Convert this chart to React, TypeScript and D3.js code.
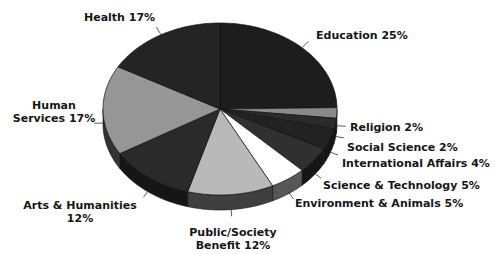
import * as d3 from 'd3';
import React from 'react';

// slices, clockwise from 12 o'clock
const categories = [
  'Education', 'Religion', 'Social Science', 'International Affairs',
  'Science & Technology', 'Environment & Animals', 'Public/Society\nBenefit',
  'Arts & Humanities\n', 'Human\nServices', 'Health',
];
const values = [25, 2, 2, 4, 5, 5, 12, 12, 17, 17];
const fills = [
  '#1d1d1d', '#8a8a8a', '#2b2b2b', '#222222', '#303030',
  '#ffffff', '#b9b9b9', '#2a2a2a', '#969696', '#242424',
];

// label placement: x, first baseline, anchor
const labelLayout: [number, number, string][] = [
  [316, 39, 'start'], [350, 131, 'start'], [347, 151, 'start'], [342, 167, 'start'],
  [323, 189, 'start'], [295, 207, 'start'], [233, 236, 'middle'],
  [80, 209, 'middle'], [54, 109, 'middle'], [84, 21, 'start'],
];

const W = 499, H = 254;
const cx = 220, cy = 109, rx = 117, ry = 86, depth = 15;

const pt = (a: number, dy = 0, grow = 0): [number, number] => [
  cx + (rx + grow) * Math.sin(a),
  cy - (ry + grow) * Math.cos(a) + dy,
];

const arcPts = (a0: number, a1: number, dy = 0) => {
  const n = Math.max(2, Math.ceil(Math.abs(a1 - a0) / 0.02));
  return d3.range(n + 1).map(i => pt(a0 + (a1 - a0) * i / n, dy));
};

// side wall shade: much darker than top, but not pure black
const wallColor = (c: string) => {
  const g = d3.rgb(d3.color(c)!.darker(3));
  const v = Math.max(g.r, 22);
  return d3.rgb(v, v, v).toString();
};

export default function App() {
  const arcs = d3.pie<number>().sort(null)(values);
  const line = d3.line();

  const walls = arcs.map((d, i) => {
    const s = Math.max(d.startAngle, Math.PI / 2);
    const e = Math.min(d.endAngle, Math.PI * 1.5);
    if (e <= s) return null;
    const pts = [...arcPts(s, e), ...arcPts(e, s, depth)];
    return (
      <path key={'w' + i} d={line(pts) + 'Z'} fill={wallColor(fills[i])}
        stroke="#111" strokeWidth={0.6} />
    );
  });

  const tops = arcs.map((d, i) => {
    const pts: [number, number][] = [[cx, cy], ...arcPts(d.startAngle, d.endAngle)];
    return (
      <path key={'t' + i} d={line(pts) + 'Z'} fill={fills[i]}
        stroke="#111" strokeWidth={0.7} strokeLinejoin="round" />
    );
  });

  const labels = arcs.map((d, i) => {
    const m = (d.startAngle + d.endAngle) / 2;
    const front = Math.cos(m) < 0.15;
    const dy = front ? depth * 0.85 : 0;
    const p0 = pt(m, dy);
    const p1 = pt(m, dy, 9);
    const [lx, ly, anchor] = labelLayout[i];
    const lines = `${categories[i]} ${values[i]}%`.split('\n').map(s => s.trim());
    return (
      <g key={'l' + i}>
        <path d={line([p0, p1])!} stroke="#333" strokeWidth={0.8} fill="none" />
        <text x={lx} y={ly} textAnchor={anchor} fontFamily="DejaVu Sans"
          fontWeight="bold" fontSize={11} fill="#161616">
          {lines.map((t, j) => (
            <tspan key={j} x={lx} dy={j === 0 ? 0 : 13}>{t}</tspan>
          ))}
        </text>
      </g>
    );
  });

  return (
    <svg width={W} height={H} style={{ position: 'absolute', left: 0, top: 0, background: '#fff' }}>
      {walls}
      {tops}
      {labels}
    </svg>
  );
}
